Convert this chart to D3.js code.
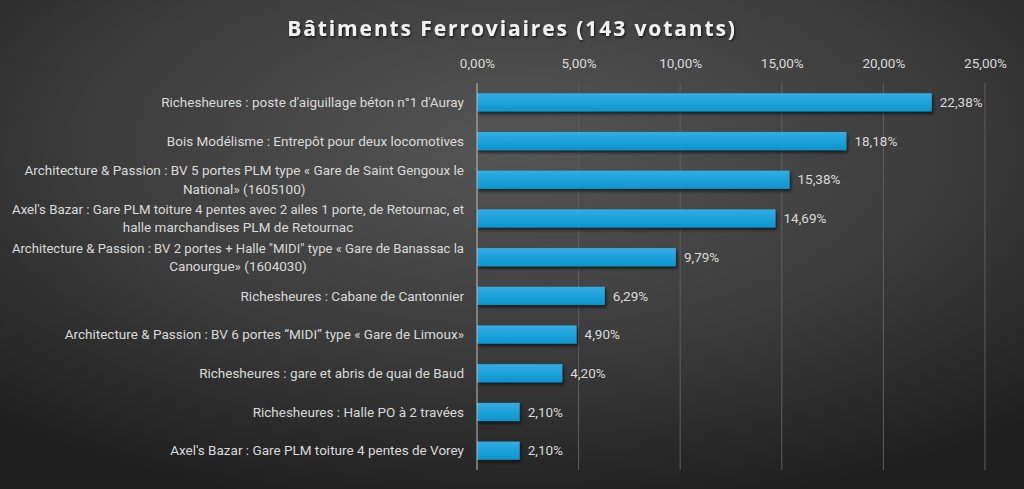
<!DOCTYPE html>
<html><head><meta charset="utf-8">
<script src="https://cdn.jsdelivr.net/npm/d3@7"></script>
<style>
html,body{margin:0;padding:0;background:#2b2b2b;}
svg{display:block;}
</style></head>
<body>
<svg id="c" width="1024" height="489"></svg>
<script>
const title = "Bâtiments Ferroviaires (143 votants)";
const categories = [
  "Richesheures : poste d'aiguillage béton n°1 d'Auray",
  "Bois Modélisme : Entrepôt pour deux locomotives",
  "Architecture & Passion : BV 5 portes PLM type « Gare de Saint Gengoux le\nNational» (1605100)",
  "Axel's Bazar : Gare PLM toiture 4 pentes avec 2 ailes 1 porte, de Retournac, et\nhalle marchandises PLM de Retournac",
  "Architecture & Passion : BV 2 portes + Halle \"MIDI\" type « Gare de Banassac la\nCanourgue» (1604030)",
  "Richesheures : Cabane de Cantonnier",
  "Architecture & Passion : BV 6 portes “MIDI” type « Gare de Limoux»",
  "Richesheures : gare et abris de quai de Baud",
  "Richesheures : Halle PO à 2 travées",
  "Axel's Bazar : Gare PLM toiture 4 pentes de Vorey"
];
const values = [22.38, 18.18, 15.38, 14.69, 9.79, 6.29, 4.90, 4.20, 2.10, 2.10];
const ticks = [0, 5, 10, 15, 20, 25];

const W = 1024, H = 489;
const m = {left: 477, right: 39, top: 83, bottom: 19};
const svg = d3.select("#c");
const defs = svg.append("defs");

const bg = defs.append("radialGradient").attr("id","bg")
  .attr("cx","0.5").attr("cy","0.3").attr("r","0.75");
bg.append("stop").attr("offset","0").attr("stop-color","#555555");
bg.append("stop").attr("offset","0.55").attr("stop-color","#3c3c3c");
bg.append("stop").attr("offset","1").attr("stop-color","#1f1f1f");
svg.append("rect").attr("width",W).attr("height",H).attr("fill","url(#bg)");

const bgrad = defs.append("linearGradient").attr("id","bar").attr("x1",0).attr("y1",0).attr("x2",0).attr("y2",1);
bgrad.append("stop").attr("offset","0").attr("stop-color","#33ade3");
bgrad.append("stop").attr("offset","1").attr("stop-color","#0a95cf");

const sh = defs.append("filter").attr("id","sh").attr("x","-10%").attr("y","-30%").attr("width","130%").attr("height","180%");
sh.append("feDropShadow").attr("dx",1.5).attr("dy",2.5).attr("stdDeviation",1.6).attr("flood-color","#000").attr("flood-opacity",0.6);

const tsh = defs.append("filter").attr("id","tsh").attr("x","-5%").attr("y","-30%").attr("width","110%").attr("height","170%");
tsh.append("feDropShadow").attr("dx",1).attr("dy",1.5).attr("stdDeviation",1).attr("flood-color","#000").attr("flood-opacity",0.7);

const x = d3.scaleLinear().domain([0,25]).range([m.left, W - m.right]);
const y = d3.scaleBand().domain(categories).range([m.top, H - m.bottom]).paddingInner(0.53).paddingOuter(0.265);

const font = "'Roboto', sans-serif";

// gridlines
svg.append("g").selectAll("line").data(ticks.slice(1)).join("line")
  .attr("x1", d=>x(d)).attr("x2", d=>x(d)).attr("y1", m.top).attr("y2", H - m.bottom)
  .attr("stroke","#5e5e5e").attr("stroke-width",1);

// top axis
const ax = svg.append("g").attr("transform",`translate(0,${m.top - 12})`)
  .call(d3.axisTop(x).tickValues(ticks).tickSize(0).tickFormat(d => d.toFixed(2).replace(".",",") + "%"));
ax.select(".domain").remove();
ax.selectAll("text").attr("fill","#d9d9d9").style("font-family",font).style("font-size","13.5px");

// bars
svg.append("g").selectAll("rect").data(values).join("rect")
  .attr("x", x(0)).attr("y", (d,i)=>y(categories[i]))
  .attr("width", d=>x(d)-x(0)).attr("height", y.bandwidth())
  .attr("fill","url(#bar)").attr("filter","url(#sh)");

// zero axis line
svg.append("line").attr("x1",x(0)).attr("x2",x(0)).attr("y1",m.top).attr("y2",H-m.bottom)
  .attr("stroke","#bfbfbf").attr("stroke-width",1);

// value labels
svg.append("g").selectAll("text").data(values).join("text")
  .attr("x", d=>x(d)+8).attr("y",(d,i)=>y(categories[i])+y.bandwidth()/2)
  .attr("dy","0.35em").attr("fill","#d9d9d9")
  .style("font-family",font).style("font-size","13.5px")
  .text(d=>d.toFixed(2).replace(".",",")+"%");

// category labels
const maxW = 452;
const cl = svg.append("g").selectAll("text").data(categories).join("text")
  .attr("fill","#d9d9d9").style("font-family",font).style("font-size","13.5px")
  .attr("text-anchor","middle");
cl.each(function(c){
  const lines = c.split("\n");
  const t = d3.select(this);
  const cy = y(c) + y.bandwidth()/2;
  const lh = 18.5;
  lines.forEach((ln,j)=>{
    t.append("tspan").attr("x",0).attr("y", cy + (j - (lines.length-1)/2)*lh).attr("dy","0.35em").text(ln);
  });
});
cl.each(function(){
  const t = d3.select(this);
  let wmax = 0;
  t.selectAll("tspan").each(function(){
    let w = this.getComputedTextLength();
    if (w > maxW) {
      d3.select(this).attr("textLength", maxW).attr("lengthAdjust","spacingAndGlyphs");
      w = maxW;
    }
    wmax = Math.max(wmax, w);
  });
  const cx = (x(0) - 13) - wmax/2;
  t.selectAll("tspan").attr("x", cx);
});

// title
svg.append("text").attr("x", W/2).attr("y", 36).attr("text-anchor","middle")
  .attr("fill","#f2f2f2").attr("filter","url(#tsh)")
  .style("font-family","'Open Sans', 'DejaVu Sans', sans-serif").style("font-weight","700")
  .style("font-size","21px").style("letter-spacing","1.9px")
  .text(title);
</script>
</body></html>
